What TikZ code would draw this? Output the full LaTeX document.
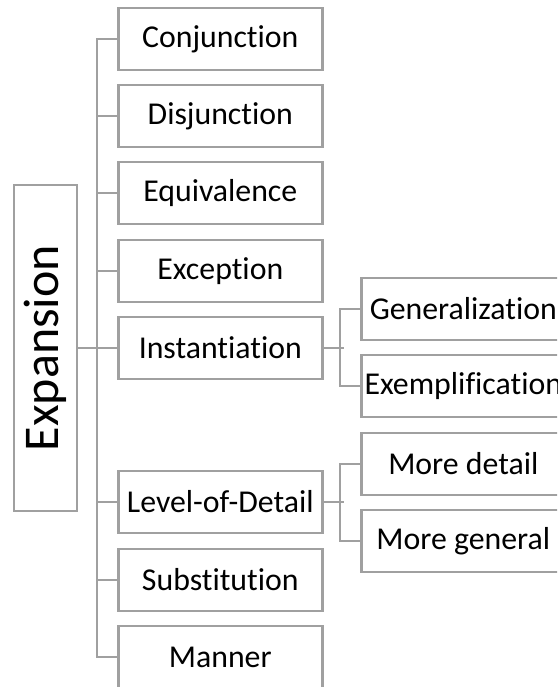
\documentclass[tikz,border=0pt]{standalone}
\usepackage{fontspec}
\setmainfont{Carlito}[Ligatures=NoCommon]
\definecolor{linegray}{RGB}{160,160,160}
\definecolor{boxgray}{RGB}{160,160,160}
\begin{document}
\begin{tikzpicture}[x=1pt,y=-1pt,
  catbox/.style={draw=boxgray,line width=2.6pt,fill=white,minimum width=204pt,minimum height=62pt,inner sep=0pt,font=\fontsize{31.8}{36}\selectfont,anchor=west},
  rootbox/.style={draw=boxgray,line width=2.6pt,fill=white,minimum width=326pt,minimum height=63pt,inner sep=0pt,font=\fontsize{50}{58}\selectfont,rotate=90},
  link/.style={draw=linegray,line width=2.6pt}]
\clip (0,0) rectangle (557,687);
\fill[white] (0,0) rectangle (557,687);
\node[rootbox] (exp) at (45.5,348) {Expansion};
\node[catbox] (conj) at (117,39) {Conjunction};
\node[catbox] (disj) at (117,116) {Disjunction};
\node[catbox] (equi) at (117,193) {Equivalence};
\node[catbox] (exce) at (117,271) {Exception};
\node[catbox] (inst) at (117,348) {Instantiation};
\node[catbox] (lod) at (117,502) {Level-of-Detail};
\node[catbox] (subs) at (117,580) {Substitution};
\node[catbox] (mann) at (117,657) {Manner};
\node[catbox] (gene) at (360,309) {Generalization};
\node[catbox] (exem) at (360,386) {Exemplification};
\node[catbox] (mdet) at (360,464) {More detail};
\node[catbox] (mgen) at (360,541) {More general};
% trunk
\draw[link] (conj.west) -- ++(-20,0) coordinate (trunktop) |- (mann.west);
\foreach \n in {disj,equi,exce,lod,subs} \draw[link] (\n.west) -- ++(-20,0);
\draw[link] (exp.south) -- (inst.west);
% instantiation subtree
\draw[link] (inst.east) -- ++(20,0);
\draw[link] (gene.west) -- ++(-20,0) |- (exem.west);
% level-of-detail subtree
\draw[link] (lod.east) -- ++(20,0);
\draw[link] (mdet.west) -- ++(-20,0) |- (mgen.west);
\end{tikzpicture}
\end{document}
